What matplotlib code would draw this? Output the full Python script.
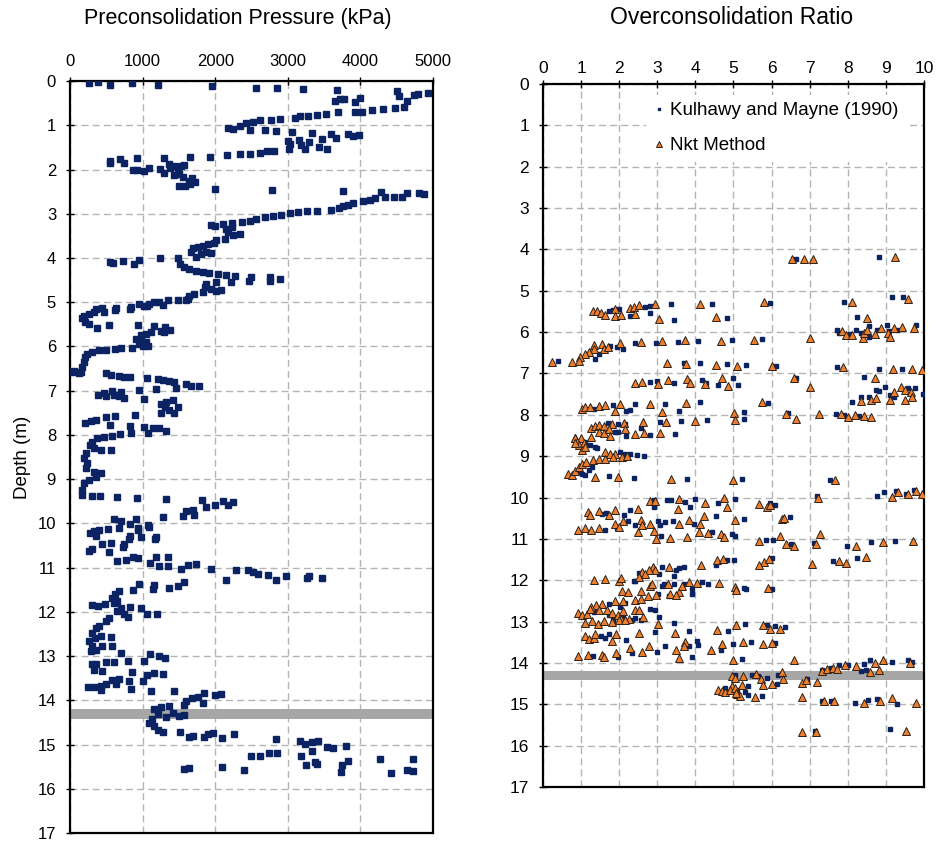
import numpy as np
import matplotlib
matplotlib.use('Agg')
import matplotlib.pyplot as plt

plt.rcParams['font.family'] = ['Liberation Sans', 'DejaVu Sans']

# preconsolidation pressure (kPa, depth m)
pc_points = [
    (263,0.04),(392,0.02),(553,0.08),(852,0.05),(1217,0.10),(1954,0.11),(2562,0.15),(2848,0.15),
    (3207,0.17),(3673,0.20),(4502,0.23),(4534,0.34),(4640,0.45),(4732,0.32),(4788,0.29),(4930,0.26),
    (3650,0.45),(3719,0.41),(3774,0.40),(3926,0.47),(3995,0.38),
    (2175,1.05),(2245,1.08),(2336,1.02),(2428,0.95),(2520,0.92),(2613,0.89),(2774,0.88),(2889,0.86),
    (3097,0.83),(3166,0.80),(3281,0.78),(3396,0.77),(3521,0.74),(3696,0.71),(3926,0.69),(4027,0.69),
    (4157,0.66),(4309,0.64),(4479,0.62),(4604,0.59),
    (2475,1.11),(2691,1.11),(2834,1.14),(3051,1.15),(3336,1.18),(3590,1.20),(3663,1.28),(3834,1.20),
    (3903,1.24),(3981,1.23),(3004,1.35),(3027,1.43),(3157,1.33),(3175,1.45),(3235,1.54),(3295,1.38),
    (3465,1.30),(3433,1.50),(3534,1.53),
    (1935,1.71),(2166,1.68),(2336,1.65),(2484,1.65),(2613,1.62),(2714,1.59),(2816,1.57),(3018,1.54),
    (548,1.80),(548,1.86),(687,1.77),(747,1.86),(917,1.75),(871,2.01),(922,2.00),(1014,2.03),
    (1083,1.97),(1244,1.98),(1290,1.74),(1300,2.07),(1369,1.88),(1378,1.96),(1438,1.92),(1438,2.13),
    (1484,1.99),(1498,2.11),(1530,1.92),(1576,1.90),(1553,2.18),(1655,1.72),(1507,2.38),(1590,2.38),
    (1636,2.26),(1682,2.20),(1728,2.29),(1659,2.33),(1991,2.43),(2788,2.46),(3765,2.48),
    (4871,2.56),(4802,2.53),(4640,2.52),(4571,2.61),(4456,2.61),(4341,2.63),(4281,2.50),(4203,2.65),
    (4134,2.69),(4042,2.72),(3903,2.76),(3834,2.80),(3765,2.83),(3710,2.88),(3590,2.91),(3405,2.93),
    (3258,2.93),(3143,2.97),(3027,2.99),(2912,3.02),(2797,3.05),(2682,3.07),(2567,3.12),(2475,3.16),
    (2373,3.18),(2235,3.20),(2106,3.23),(1945,3.26),(1991,3.27),(2226,3.29),(2152,3.35),(2175,3.42),
    (2244,3.47),(2336,3.46),(2129,3.56),(2014,3.59),(1977,3.65),(1899,3.68),(1829,3.72),(1760,3.76),
    (1691,3.78),(1668,3.87),(1737,3.98),(1806,3.91),(1875,3.86),(1945,3.89),
    (548,4.08),(594,4.11),(724,4.06),(885,4.14),(954,4.04),(1244,4.01),(1484,4.01),(1516,4.14),
    (1576,4.21),(1645,4.25),(1737,4.29),(1829,4.32),(1921,4.34),(2037,4.36),(2152,4.38),(2267,4.40),
    (2221,4.55),(2465,4.51),(2498,4.44),(2751,4.44),(2760,4.53),(2889,4.47),
    (2014,4.55),(2014,4.74),(1875,4.59),(1866,4.66),(1945,4.70),(2083,4.72),(1829,4.77),(1714,4.81),
    (1645,4.85),(1622,4.92),(1484,4.96),(1346,4.96),(1230,5.00),(1161,5.00),(1092,5.04),(1023,5.08),
    (954,5.04),(839,5.11),(631,5.14),(447,5.14),(355,5.15),
    (1055,5.09),(1276,5.07),(1599,4.95),(825,5.15),(622,5.17),(470,5.21),(332,5.22),(263,5.26),
    (194,5.30),(171,5.36),(207,5.44),(263,5.49),(378,5.58),(539,5.51),(931,5.51),(1161,5.54),
    (1253,5.64),(1313,5.56),(1382,5.62),(1299,5.67),
    (1046,5.71),(1115,5.68),(977,5.75),(908,5.84),(977,5.86),(1046,5.90),(1000,5.99),(1069,5.98),(954,5.94),
    (853,6.04),(700,6.04),(622,6.05),(502,6.07),(401,6.09),(309,6.13),(240,6.16),(207,6.24),
    (194,6.35),(171,6.46),(147,6.58),(55,6.56),(23,6.58),(124,6.61),
    (502,6.61),(562,6.65),(668,6.67),(747,6.69),(825,6.69),(1060,6.71),(1207,6.74),(1286,6.76),
    (1369,6.79),(1438,6.81),(1461,6.94),(1599,6.84),(1668,6.89),(1783,6.89),
    (392,7.09),(470,7.06),(493,7.12),(585,7.01),(608,7.10),(700,7.03),(677,7.12),(747,7.16),
    (945,6.99),(1184,6.97),(1023,7.19),
    (1253,7.29),(1322,7.25),(1414,7.21),(1484,7.36),(1369,7.44),(1253,7.51),(1313,7.36),(1438,7.51),
    (207,7.74),(286,7.69),(355,7.66),(493,7.59),(622,7.57),(899,7.55),(548,7.78),(825,7.80),
    (1023,7.81),(1138,7.85),(1230,7.85),(1322,7.91),(1069,7.96),(839,7.96),(687,7.99),(576,8.02),
    (470,8.04),(378,8.08),(309,8.15),(272,8.23),(332,8.30),(424,8.34),(562,8.34),(217,8.41),
    (194,8.53),(240,8.64),(217,8.75),(332,8.83),(424,8.86),(355,8.94),(263,9.01),(194,9.09),
    (171,9.24),(171,9.35),
    (300,9.37),(410,9.37),(654,9.40),(917,9.42),(1322,9.44),(1820,9.46),(2106,9.49),(2244,9.52),
    (2175,9.58),(1991,9.58),(1875,9.64),(1691,9.69),(1599,9.73),(1714,9.80),(1562,9.84),(1276,9.86),
    (608,9.91),(700,9.94),(908,9.89),(530,10.12),(677,10.10),(825,10.01),(931,10.10),(1069,10.04),
    (1092,10.09),(272,10.21),(332,10.17),(401,10.14),(825,10.29),(977,10.31),(1184,10.31),
    (355,10.29),(930,10.14),(447,10.47),(562,10.44),(747,10.47),(816,10.36),(1175,10.35),
    (263,10.62),(309,10.59),(539,10.64),(724,10.53),(654,10.85),(770,10.83),(862,10.76),(931,10.79),
    (1101,10.89),(1184,10.76),(1230,10.96),(1345,10.75),(1345,10.97),
    (1530,11.02),(1622,10.95),(1737,10.92),(1945,11.04),(2143,11.29),(2290,11.06),(2452,11.06),
    (2521,11.11),(2590,11.14),(2728,11.17),(2834,11.29),(2972,11.19),(3258,11.24),(3295,11.19),(3465,11.23),
    (945,11.38),(1161,11.39),(1138,11.49),(871,11.51),(1369,11.45),(1484,11.41),(1576,11.32),
    (677,11.53),(622,11.60),(585,11.68),(654,11.75),(309,11.84),(392,11.86),(484,11.83),(608,11.79),
    (700,11.92),(825,11.90),(977,11.92),(1055,12.05),(1198,12.05),(654,11.98),(747,12.05),(793,12.11),
    (539,12.13),(493,12.20),(401,12.32),(355,12.37),(309,12.47),(263,12.65),(346,12.58),(424,12.54),
    (562,12.56),(309,12.77),(355,12.86),(447,12.77),(585,12.77),(286,12.88),
    (696,12.94),(1101,12.95),(1230,12.99),(1313,13.05),(309,13.18),(355,13.18),(332,13.32),(493,13.14),
    (608,13.14),(802,13.11),(1023,13.11),(447,13.33),(853,13.37),(1055,13.42),(1161,13.39),(1276,13.41),
    (806,13.56),(839,13.74),(1000,13.56),(253,13.71),(332,13.69),(424,13.67),(493,13.63),(424,13.77),
    (576,13.54),(668,13.52),(631,13.62),(1115,13.78),(1438,13.80),
    (1599,14.01),(1682,13.95),(1760,13.92),(1839,13.83),(1829,14.07),(1991,13.87),(2083,13.86),
    (1576,14.10),(1161,14.20),(1253,14.16),(1369,14.12),(1207,14.31),(1322,14.38),(1414,14.29),
    (1507,14.35),(1576,14.33),(1092,14.52),(1161,14.57),(1207,14.67),(1286,14.71),(1124,14.42),
    (1516,14.71),(1645,14.82),(1691,14.80),(1839,14.83),(1899,14.77),(1968,14.74),(2097,14.85),
    (2253,14.76),(2834,14.88),(3166,14.91),(3235,14.98),(3327,14.95),(3419,14.92),(3534,15.06),
    (3626,15.08),(3802,15.04),
    (2498,15.25),(2613,15.26),(2742,15.18),(2857,15.18),(3175,15.27),(3327,15.15),(3249,15.47),
    (3373,15.39),(3405,15.44),(3742,15.47),(3728,15.62),(3834,15.38),(4272,15.32),(4723,15.32),
    (4424,15.65),(4640,15.57),(4723,15.60),(1576,15.55),(1645,15.53),(2097,15.50),(2396,15.57),
]

# OCR, Kulhawy and Mayne (1990)
km_points = [
    (6.63,4.22),(8.82,4.19),
    (1.73,5.48),(1.83,5.47),(1.99,5.45),(2.28,5.61),(2.69,5.40),(2.80,5.37),(2.80,5.53),(3.37,5.31),
    (3.43,5.71),(4.44,5.31),(4.83,5.65),(5.97,5.29),(7.90,5.27),(8.25,5.63),(9.15,5.16),(9.46,5.15),
    (7.72,5.95),(7.78,6.03),(8.07,6.05),(8.22,5.94),(8.34,6.03),(8.56,5.85),(8.77,5.94),(9.04,5.83),
    (9.08,5.97),(9.30,5.94),(9.80,5.83),(8.56,6.11),
    (1.46,6.52),(1.36,6.64),(1.64,6.44),(1.77,6.34),(1.94,6.37),(2.09,6.40),(2.41,6.26),(2.97,6.26),
    (3.55,6.23),(4.07,6.21),(4.96,6.18),(5.75,6.16),
    (0.39,6.69),(3.70,6.74),(4.11,6.74),(4.83,6.77),(5.33,6.80),(6.12,6.82),(7.72,6.84),(8.82,6.88),(9.41,6.90),
    (2.82,7.20),(3.00,7.18),(3.43,7.23),(4.18,7.16),(4.28,7.23),(4.60,7.28),(4.99,7.12),(5.12,7.28),
    (6.63,7.10),(8.42,7.08),
    (8.12,7.69),(8.34,7.58),(8.56,7.56),(8.75,7.40),(8.98,7.32),(9.10,7.52),(9.21,7.56),(9.59,7.36),
    (9.76,7.34),(9.97,7.50),(8.82,7.42),
    (1.33,7.87),(1.83,7.77),(2.18,7.90),(2.29,7.89),(2.41,7.74),(3.21,7.73),(3.56,7.90),(4.13,7.70),
    (5.27,7.93),(5.27,8.11),(5.91,7.71),(6.44,7.95),(7.68,7.98),(7.90,8.01),(8.29,8.03),
    (1.71,8.19),(1.97,8.23),(2.15,8.21),(2.58,8.33),(3.06,8.17),(3.61,8.15),(4.31,8.13),(1.90,8.41),
    (1.97,8.41),(2.18,8.52),(2.82,8.49),(3.46,8.47),
    (1.11,8.65),(1.24,8.73),(1.36,8.77),(1.42,8.81),(2.03,8.89),(2.16,8.94),(2.29,8.95),(2.47,8.98),(2.64,9.00),
    (0.89,9.38),(1.02,9.42),(1.11,9.46),(1.20,9.34),(1.29,9.26),(1.73,9.48),(2.39,9.52),(3.78,9.54),
    (5.23,9.54),(7.52,9.57),(7.20,9.97),(8.77,9.97),(8.95,9.86),(9.26,9.84),(9.52,9.91),(9.74,9.81),
    (2.91,10.05),(3.26,10.07),(3.35,10.07),(3.72,10.11),(3.98,10.03),(4.60,10.13),(5.04,10.03),(2.91,10.24),
    (3.87,10.24),(2.29,10.29),(6.09,10.17),(5.97,10.13),(1.65,10.37),(2.12,10.43),(1.55,10.39),
    (2.23,10.57),(2.41,10.67),(1.64,10.78),(1.94,10.73),(3.02,10.57),(3.06,10.67),(3.21,10.59),(3.41,10.57),
    (3.96,10.65),(4.53,10.45),(4.44,10.83),(4.95,10.89),(5.04,10.94),(5.27,10.51),(6.47,10.47),(6.50,11.13),
    (5.86,11.02),(6.03,11.02),(7.11,11.10),(7.99,11.16),(8.60,11.08),(9.24,11.05),(3.11,10.94),
    (4.53,11.64),(4.83,11.51),(5.01,11.51),(6.00,11.46),(7.61,11.54),(8.25,11.46),(3.13,11.68),(3.48,11.75),
    (3.58,11.70),(3.70,11.67),(3.43,11.89),(3.04,11.86),(2.51,11.83),(2.41,12.02),
    (2.38,12.02),(3.13,12.13),(3.17,12.10),(3.43,12.10),(3.70,12.10),(3.91,12.33),(3.91,12.21),(4.18,12.05),
    (4.33,12.09),(5.27,12.18),(5.33,12.21),(6.02,12.21),(3.02,12.33),(3.30,12.37),(2.01,12.65),(2.15,12.56),
    (1.74,12.57),(1.33,12.77),(1.72,12.85),(2.09,12.89),(2.82,12.69),(2.93,12.73),(3.04,12.89),(1.85,12.94),(2.42,12.91),
    (1.83,13.01),(2.34,12.96),(2.58,12.96),(3.43,13.04),(3.83,13.23),(4.86,13.23),(5.30,13.07),(5.88,13.09),
    (6.10,13.11),(6.35,13.12),(2.93,13.25),
    (1.51,13.34),(1.64,13.39),(1.74,13.31),(2.18,13.45),(2.34,13.76),(3.20,13.60),(3.00,13.74),(3.84,13.58),
    (4.04,13.47),(3.91,13.85),(4.68,13.69),(4.98,13.53),(5.47,13.50),(6.09,13.51),(5.23,13.90),(4.07,13.56),
    (1.30,13.82),(1.97,13.85),
    (7.31,14.16),(7.57,14.12),(7.77,14.06),(8.01,14.06),(8.34,14.20),(8.47,14.16),(8.42,14.02),(8.57,13.94),
    (9.15,13.98),(9.59,13.94),(9.69,13.98),
    (5.04,14.28),(5.49,14.28),(5.65,14.31),(5.88,14.36),(6.17,14.28),(6.15,14.50),(6.93,14.40),(4.77,14.61),
    (4.96,14.63),(5.38,14.55),(5.30,14.71),(5.39,14.77),(5.75,14.81),(5.09,14.65),
    (7.31,14.93),(7.55,14.91),(8.19,14.96),(8.54,14.89),(8.77,14.86),(9.30,14.99),
    (7.14,15.64),(9.10,15.60),
]

# OCR, Nkt method
nkt_points = [
    (6.54,4.24),(6.85,4.22),(7.08,4.24),(9.23,4.19),
    (1.30,5.48),(1.42,5.50),(1.53,5.53),(1.64,5.59),(1.90,5.43),(1.88,5.61),(2.06,5.59),(2.29,5.41),
    (2.38,5.39),(2.41,5.56),(2.53,5.35),(2.95,5.32),(3.04,5.69),(4.12,5.31),(4.55,5.63),(5.81,5.27),
    (8.10,5.27),(8.51,5.65),(9.59,5.19),
    (7.85,5.97),(7.94,6.07),(8.12,6.07),(8.41,6.13),(8.42,6.02),(8.51,5.95),(8.71,6.05),(8.86,5.89),
    (9.06,6.02),(9.12,6.11),(9.21,5.91),(9.43,5.87),(9.74,5.91),(7.00,6.14),
    (1.33,6.31),(1.55,6.29),(1.33,6.42),(1.20,6.48),(1.09,6.53),(0.98,6.60),(1.59,6.40),(1.71,6.37),
    (2.01,6.27),(2.56,6.24),(3.13,6.22),(3.72,6.19),(4.68,6.21),(5.55,6.18),
    (0.24,6.72),(0.76,6.72),(0.94,6.69),(3.26,6.74),(3.76,6.77),(4.53,6.80),(5.10,6.82),(6.02,6.82),
    (7.87,6.84),(9.19,6.88),(9.69,6.90),(9.94,6.92),
    (2.41,7.23),(2.60,7.20),(3.02,7.26),(3.28,7.16),(3.78,7.14),(3.87,7.24),(4.26,7.26),(4.70,7.12),
    (4.86,7.31),(6.58,7.12),(7.02,7.32),(8.71,7.10),
    (8.34,7.66),(8.60,7.63),(8.73,7.60),(9.12,7.65),(9.21,7.44),(9.39,7.32),(9.50,7.40),(9.50,7.65),
    (9.65,7.44),(9.69,7.56),
    (1.02,7.85),(1.09,7.82),(1.24,7.82),(1.46,7.79),(1.64,7.77),(2.01,7.74),(1.88,7.90),(2.82,7.74),
    (3.13,7.93),(3.76,7.71),(5.01,7.95),(5.04,8.13),(5.74,7.69),(6.38,7.97),(6.63,8.09),(7.24,7.97),
    (7.81,7.98),(8.01,8.06),(8.19,8.01),(8.42,8.03),(8.60,8.06),
    (1.27,8.31),(1.37,8.27),(1.48,8.25),(1.59,8.27),(1.80,8.21),(2.12,8.19),(2.62,8.17),(3.23,8.17),
    (3.98,8.15),(1.46,8.41),(1.59,8.45),(1.74,8.35),(1.77,8.52),(2.15,8.35),(2.41,8.47),(2.64,8.45),
    (3.08,8.45),(0.85,8.55),(1.01,8.55),(1.27,8.53),
    (0.83,8.57),(0.89,8.65),(0.94,8.73),(1.07,8.69),(1.02,8.85),(1.11,8.77),(0.85,8.69),(1.64,8.89),
    (1.77,8.94),(1.90,8.95),(2.07,9.02),(2.21,9.00),
    (0.66,9.44),(0.76,9.46),(0.85,9.36),(0.94,9.27),(1.02,9.19),(1.13,9.14),(1.30,9.10),(1.46,9.08),
    (1.64,9.06),(1.83,9.03),(1.36,9.50),(1.97,9.50),(3.37,9.54),(4.98,9.57),(7.66,9.58),(7.22,10.00),
    (9.17,9.99),(9.32,9.86),(9.59,9.91),(9.78,9.84),(9.96,9.91),
    (2.82,10.08),(2.95,10.08),(3.58,10.03),(4.26,10.13),(4.75,10.00),(4.83,10.23),(3.55,10.27),(2.49,10.27),
    (5.67,10.15),(5.88,10.23),(5.97,10.19),(1.18,10.35),(1.46,10.33),(1.88,10.31),(1.72,10.43),(1.24,10.43),
    (2.09,10.57),(1.90,10.63),(1.99,10.71),(0.92,10.78),(1.11,10.73),(1.27,10.79),(1.46,10.73),(2.58,10.54),
    (2.60,10.67),(2.82,10.63),(2.49,10.83),(2.91,10.81),(3.58,10.65),(3.84,10.54),(4.11,10.63),(4.22,10.45),
    (4.09,10.83),(4.33,10.86),(4.66,10.87),(4.75,10.96),(5.04,10.54),(6.28,10.51),(6.32,10.49),(6.23,10.92),
    (7.26,10.89),(2.97,11.00),(3.33,10.97),(3.78,10.96),(5.67,11.05),(6.38,11.12),(6.58,11.16),(7.17,11.12),
    (8.22,11.16),(8.92,11.08),(9.71,11.05),
    (4.57,11.52),(4.72,11.48),(5.80,11.56),(5.93,11.48),(7.05,11.60),(7.77,11.54),(7.94,11.59),(8.49,11.44),
    (4.16,11.64),(5.68,11.64),(2.88,11.68),(3.30,11.68),(2.95,11.75),(2.78,11.75),(2.60,11.80),(2.53,11.93),
    (2.69,11.86),(1.33,11.99),(1.64,11.97),(1.99,12.01),(2.06,11.94),
    (2.08,12.26),(2.23,12.29),(2.58,12.26),(2.82,12.15),(2.86,12.10),(3.28,12.10),(3.56,12.29),(3.65,12.13),
    (3.84,12.05),(4.04,12.07),(4.63,12.07),(5.04,12.17),(5.07,12.23),(5.90,12.18),(2.41,12.47),(2.58,12.45),
    (2.76,12.39),(2.97,12.35),(3.33,12.33),(3.48,12.35),(2.09,12.51),(1.90,12.49),(1.55,12.57),(1.39,12.59),
    (1.27,12.65),(0.92,12.80),(1.02,12.83),(1.16,12.81),(1.24,12.69),(1.46,12.73),(1.68,12.72),(1.81,12.80),
    (1.97,12.85),(2.09,12.75),(2.42,12.72),(2.51,12.73),(2.62,12.89),(2.25,12.94),(1.09,13.04),(1.29,12.99),
    (1.45,13.06),(1.59,12.99),(1.81,13.02),(2.06,12.94),
    (1.99,12.97),(2.16,12.97),(3.02,13.07),(4.57,13.21),(5.07,13.09),(5.77,13.09),(5.97,13.17),(6.23,13.17),
    (1.11,13.34),(1.20,13.43),(1.33,13.39),(1.37,13.29),(1.80,13.47),(1.92,13.29),(2.53,13.27),(2.29,13.64),
    (2.78,13.58),(2.60,13.74),(3.46,13.27),(3.72,13.50),(3.70,13.60),(3.48,13.69),(3.56,13.88),(4.40,13.69),
    (4.70,13.55),(5.24,13.50),(5.77,13.53),(6.00,13.51),(4.98,13.92),(6.58,13.92),
    (0.92,13.82),(1.18,13.81),(1.55,13.80),(1.59,13.85),(1.92,13.76),
    (7.33,14.20),(7.46,14.15),(7.61,14.12),(7.72,14.15),(7.92,14.06),(8.22,14.08),(8.57,14.23),(8.71,14.00),
    (8.81,14.18),(8.92,13.94),(9.62,14.00),
    (4.95,14.32),(5.04,14.36),(5.24,14.31),(5.58,14.26),(5.71,14.39),(5.77,14.53),(6.01,14.50),(6.26,14.23),
    (6.30,14.40),(6.80,14.49),(6.89,14.42),(7.20,14.45),(4.95,14.55),(5.23,14.53),(4.60,14.65),(4.70,14.69),
    (4.79,14.71),(4.92,14.66),(5.04,14.61),(5.09,14.74),(5.16,14.79),(5.06,14.73),(5.56,14.83),(6.79,14.83),
    (7.37,14.93),(7.64,14.93),(8.42,14.96),(8.84,14.91),(9.17,14.85),(9.78,14.97),
    (6.80,15.66),(7.17,15.66),(9.52,15.64),
]

pc_kpa, pc_depth = zip(*pc_points)
km_ocr, km_depth = zip(*km_points)
nkt_ocr, nkt_depth = zip(*nkt_points)

navy = '#0b2363'
orange = '#ee7d2c'
band_depth = 14.31

fig = plt.figure(figsize=(9.36, 8.41), dpi=100)
ax1 = fig.add_axes([0.0748, 0.0095, 0.3878, 0.8941])
ax2 = fig.add_axes([0.5801, 0.0642, 0.4071, 0.8359])

def style_axis(ax, xmax, xstep, xpad, fs):
    ax.set_xlim(0, xmax)
    ax.set_ylim(17, 0)
    ax.set_xticks(np.arange(0, xmax + xstep / 2, xstep))
    ax.set_yticks(np.arange(0, 18, 1))
    ax.xaxis.tick_top()
    ax.tick_params(axis='x', direction='inout', length=6, width=1, labelsize=fs, pad=xpad)
    ax.tick_params(axis='y', direction='inout', length=6, width=1, labelsize=fs, pad=7)
    ax.grid(True, color='#b4b4b4', linestyle=(0, (5, 3)), linewidth=1)
    ax.set_axisbelow(True)
    for s in ax.spines.values():
        s.set_linewidth(1.6)
        s.set_color('black')
    ax.axhspan(band_depth - 0.11, band_depth + 0.11, color='#a6a6a6', lw=0, zorder=1.5)

style_axis(ax1, 5000, 1000, 6, 12)
style_axis(ax2, 10, 1, 3, 12.5)

ax1.plot(pc_kpa, pc_depth, ls='none', marker='s', ms=4.8, color=navy, mec=navy, zorder=3)
ax1.set_ylabel('Depth (m)', fontsize=13.5, labelpad=5)

ax2.plot(km_ocr, km_depth, ls='none', marker='s', ms=2.8, color=navy, mec=navy, zorder=3,
         label='Kulhawy and Mayne (1990)')
ax2.plot(nkt_ocr, nkt_depth, ls='none', marker='^', ms=6.2, color=orange, mec='#2b2118', mew=0.7,
         zorder=4, label='Nkt Method')
leg = ax2.legend(loc='upper left', bbox_to_anchor=(0.245, 0.998), frameon=True, fontsize=13.5,
                 handlelength=0.6, handletextpad=0.3, labelspacing=0.95, markerscale=0.6,
                 borderpad=0.4, framealpha=1)
leg.get_frame().set_edgecolor('none')

fig.text(0.2537, 0.978, 'Preconsolidation Pressure (kPa)', fontsize=15.5, ha='center', va='center')
fig.text(0.7815, 0.979, 'Overconsolidation Ratio', fontsize=16.5, ha='center', va='center')

plt.savefig('out.png', dpi=100)
